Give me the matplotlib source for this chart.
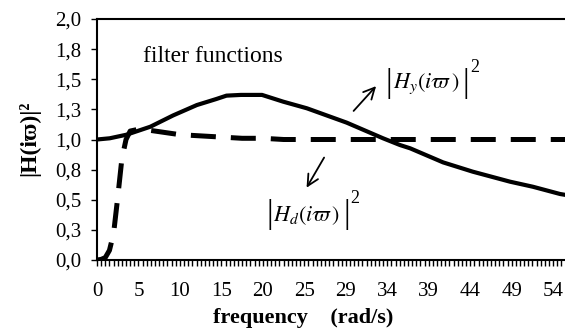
import matplotlib
matplotlib.use('Agg')
import matplotlib.pyplot as plt
from matplotlib.ticker import FixedLocator, MultipleLocator

plt.rcParams['font.family'] = ['Liberation Serif', 'DejaVu Serif']
plt.rcParams['mathtext.fontset'] = 'stix'

# |Hy(iw)|^2 : response filter
freq_y = [0.0, 1.5, 3.5, 6.3, 9.0, 11.8, 14.1, 15.3, 17.0, 19.5, 22.0, 24.8,
          29.5, 33.8, 35.8, 37.0, 40.9, 44.4, 48.8, 51.5, 54.7, 55.37]
h_y = [1.0, 1.01, 1.04, 1.106, 1.20, 1.286, 1.336, 1.364, 1.37, 1.37, 1.314, 1.259,
       1.14, 1.01, 0.954, 0.927, 0.81, 0.733, 0.65, 0.608, 0.548, 0.54]

# |Hd(iw)|^2 : high-pass filter
freq_d = [0.0, 0.49, 0.98, 1.47, 1.96, 2.45, 2.94, 3.43, 3.92, 4.9, 5.88, 6.86,
          7.84, 8.82, 9.8, 12.25, 14.7, 17.15, 19.6, 22.05, 24.5, 29.4, 34.3,
          39.2, 44.1, 49.0, 53.9, 55.37]
h_d = [0.0, 0.005, 0.02, 0.08, 0.22, 0.52, 0.84, 1.0, 1.07, 1.085, 1.08, 1.07,
       1.06, 1.05, 1.04, 1.03, 1.02, 1.01, 1.01, 1.0, 1.0, 1.0, 1.0,
       1.0, 1.0, 1.0, 1.0, 1.0]

# category axis: step 0.49 rad/s, labelled every 10th category
x_ticks = [0.0, 4.9, 9.8, 14.7, 19.6, 24.5, 29.4, 34.3, 39.2, 44.1, 49.0, 53.9]
x_labels = ['0', '5', '10', '15', '20', '25', '29', '34', '39', '44', '49', '54']
y_ticks = [0.0, 0.25, 0.5, 0.75, 1.0, 1.25, 1.5, 1.75, 2.0]
y_labels = ['0,0', '0,3', '0,5', '0,8', '1,0', '1,3', '1,5', '1,8', '2,0']

fig = plt.figure(figsize=(5.65, 3.34), dpi=100)
ax = fig.add_axes([97 / 565, 74 / 334, 468 / 565, 241 / 334])

ax.plot(freq_y, h_y, color='black', linewidth=3.0, solid_joinstyle='round')
ax.plot(freq_d, h_d, color='black', linewidth=3.6, dashes=(5, 3))

ax.set_xlim(0, 55.3)
ax.set_ylim(0, 2.0)
ax.xaxis.set_major_locator(FixedLocator(x_ticks))
ax.set_xticklabels(x_labels)
ax.xaxis.set_minor_locator(MultipleLocator(0.49))
ax.set_yticks(y_ticks)
ax.set_yticklabels(y_labels)

ax.tick_params(axis='x', which='both', direction='out', length=4, width=1,
               labelsize=15, pad=12)
ax.tick_params(axis='y', direction='out', length=4, width=1, labelsize=15, pad=7)

for side in ['left', 'bottom', 'top']:
    ax.spines[side].set_linewidth(1.5)
ax.spines['right'].set_visible(False)

ax.set_ylabel('|H(iϖ)|²', fontsize=17, fontweight='bold')
ax.yaxis.set_label_coords(-0.122, 0.506)
fig.text(303 / 565, 1 - 318 / 334, 'frequency    (rad/s)', fontsize=16,
         fontweight='bold', ha='center', va='center')

ax.text(5.4, 1.64, 'filter functions', fontsize=17)

# curve labels: tall bars drawn around the italic expression
lab = dict(ha='center', va='center', fontsize=16)
bar = dict(ha='center', va='center', fontsize=24, fontweight='light')
ax.text(38.9, 1.46, r'$H_y(i\varpi\,)$', **lab)
ax.text(34.5, 1.465, '|', **bar)
ax.text(43.6, 1.465, '|', **bar)
ax.text(44.6, 1.60, '2', ha='center', va='center', fontsize=13)
ax.text(24.8, 0.37, r'$H_d(i\varpi\,)$', **lab)
ax.text(20.4, 0.375, '|', **bar)
ax.text(29.5, 0.375, '|', **bar)
ax.text(30.5, 0.51, '2', ha='center', va='center', fontsize=13)

ax.annotate('', xy=(33.2, 1.46), xytext=(30.1, 1.22),
            arrowprops=dict(arrowstyle='->', color='black', lw=1.3,
                            mutation_scale=20))
ax.annotate('', xy=(24.6, 0.58), xytext=(27.0, 0.87),
            arrowprops=dict(arrowstyle='->', color='black', lw=1.3,
                            mutation_scale=20))

fig.savefig('out.png', dpi=100)
